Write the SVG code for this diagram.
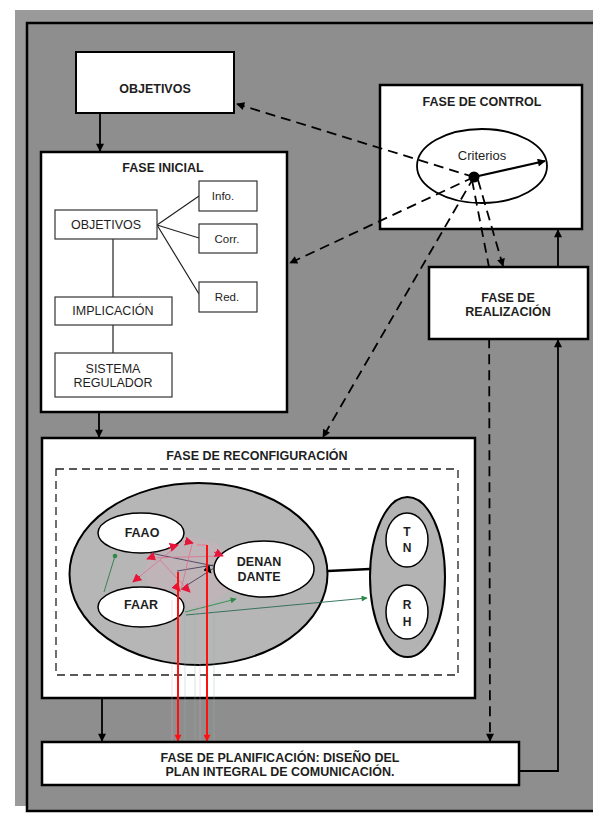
<svg xmlns="http://www.w3.org/2000/svg" width="593" height="814" viewBox="0 0 593 814">
<style>
.t{font-family:"Liberation Sans",Arial,sans-serif;fill:#1e1e1e;text-anchor:middle}
.b{font-weight:bold;font-size:12.5px}
.r{font-size:12.5px}
.box{fill:#fff;stroke:#000;stroke-width:2.5}
.ibox{fill:#fff;stroke:#333;stroke-width:1.2}
.ln{stroke:#222;stroke-width:1.2;fill:none}
.solid{stroke:#000;stroke-width:1.8;fill:none}
.dash{stroke:#000;stroke-width:1.8;fill:none;stroke-dasharray:10 6}
.red{stroke:#ff1010;stroke-width:2;fill:none}
</style>
<defs>
<marker id="ah" viewBox="0 0 10 10" refX="9" refY="5" markerWidth="9" markerHeight="8" markerUnits="userSpaceOnUse" orient="auto"><path d="M0,0 L10,5 L0,10 z" fill="#000"/></marker>
<marker id="rh" viewBox="0 0 10 10" refX="9" refY="5" markerWidth="8" markerHeight="7" markerUnits="userSpaceOnUse" orient="auto"><path d="M0,0 L10,5 L0,10 z" fill="#ff1010"/></marker>
<marker id="gh" viewBox="0 0 10 10" refX="9" refY="5" markerWidth="7" markerHeight="6" markerUnits="userSpaceOnUse" orient="auto"><path d="M0,0 L10,5 L0,10 z" fill="#2f8a4a"/></marker>
<marker id="mh" viewBox="0 0 10 10" refX="9" refY="5" markerWidth="9" markerHeight="9" markerUnits="userSpaceOnUse" orient="auto"><path d="M0,0 L10,5 L0,10 z" fill="#e8153a"/></marker>
</defs>
<rect width="593" height="814" fill="#fff"/>
<rect x="15" y="10" width="590" height="796" fill="#9a9a9a"/>
<rect x="27" y="23" width="580" height="788" fill="#8e8e8e" stroke="#000" stroke-width="2.5"/>

<g id="objetivos">
<rect x="76" y="52" width="158" height="61" fill="#fff" stroke="#000" stroke-width="2"/>
<text class="t b" x="155" y="93">OBJETIVOS</text>
</g>

<g id="fase-control">
<rect class="box" x="380" y="85" width="202" height="144"/>
<text class="t b" x="482" y="106">FASE DE CONTROL</text>
<ellipse cx="482" cy="166" rx="65" ry="37" fill="none" stroke="#000" stroke-width="1.8"/>
<text class="t" x="482" y="160" font-size="13">Criterios</text>
<path d="M474,177 L545,161" stroke="#000" stroke-width="2.2" fill="none" marker-end="url(#ah)"/>
</g>

<g id="fase-inicial">
<rect class="box" x="41" y="152" width="246" height="260"/>
<text class="t b" x="163" y="172">FASE INICIAL</text>
<path class="ln" d="M157,225 L199,196 M157,225 L199,238 M157,225 L199,294 M113,239 L113,297 M113,325 L113,353"/>
<rect class="ibox" x="55" y="210" width="102" height="29"/>
<text class="t r" x="106" y="229">OBJETIVOS</text>
<rect class="ibox" x="199" y="181" width="58" height="30"/>
<text class="t" x="223" y="200" font-size="11.5">Info.</text>
<rect class="ibox" x="199" y="224" width="58" height="29"/>
<text class="t" x="227" y="243" font-size="11.5">Corr.</text>
<rect class="ibox" x="199" y="282" width="58" height="30"/>
<text class="t" x="227" y="301" font-size="11.5">Red.</text>
<rect class="ibox" x="55" y="297" width="117" height="28"/>
<text class="t r" x="113" y="315">IMPLICACIÓN</text>
<rect class="ibox" x="55" y="353" width="117" height="44"/>
<text class="t r" x="113" y="373">SISTEMA</text>
<text class="t r" x="113" y="387">REGULADOR</text>
</g>

<g id="connectors">
<path class="solid" d="M100,113 L100,151" marker-end="url(#ah)"/>
<path class="solid" d="M99,412 L99,437" marker-end="url(#ah)"/>
<path class="solid" d="M102,698 L102,741" marker-end="url(#ah)"/>
<path class="solid" d="M519,771 L558,771 L558,340" marker-end="url(#ah)"/>
<path class="solid" d="M558,267 L558,230" marker-end="url(#ah)"/>
<path class="dash" d="M474,177 L237,104" marker-end="url(#ah)"/>
<path class="dash" d="M474,177 L290,263" marker-end="url(#ah)"/>
<path class="dash" d="M474,177 L323,437" marker-end="url(#ah)"/>
<path class="dash" d="M478,180 L503,266" marker-end="url(#ah)"/>
<path class="dash" d="M472,180 L489,267 L490,741" marker-end="url(#ah)"/>
<circle cx="474" cy="177" r="5.5" fill="#000"/>
</g>

<g id="fase-realizacion">
<rect class="box" x="429" y="267" width="159" height="72"/>
<text class="t b" x="508" y="302">FASE DE</text>
<text class="t b" x="508" y="316">REALIZACIÓN</text>
</g>

<g id="fase-reconfiguracion">
<rect class="box" x="42" y="438" width="433" height="260"/>
<text class="t b" x="257" y="460">FASE DE RECONFIGURACIÓN</text>
<rect x="56" y="469" width="402" height="206" fill="none" stroke="#222" stroke-width="1.3" stroke-dasharray="8 5"/>
<ellipse cx="198.5" cy="574" rx="129" ry="91" fill="#b6b6b6" stroke="#000" stroke-width="2"/>
<ellipse cx="190" cy="572" rx="45" ry="35" fill="#c8b2b8" opacity="0.5"/>
<path d="M328,571 L370,569" stroke="#000" stroke-width="2.5"/>
<ellipse cx="407.5" cy="577" rx="37.5" ry="80" fill="#b3b3b3" stroke="#000" stroke-width="2"/>
<g id="faao"><ellipse cx="141" cy="533" rx="43" ry="20" fill="#fff" stroke="#000" stroke-width="1.5"/><text class="t b" x="142" y="537">FAAO</text></g>
<g id="faar"><ellipse cx="141" cy="607" rx="43" ry="20" fill="#fff" stroke="#000" stroke-width="1.5"/><text class="t b" x="141" y="609">FAAR</text></g>
<g id="denandante"><ellipse cx="264" cy="569" rx="50" ry="28" fill="#fff" stroke="#000" stroke-width="1.5"/><text class="t b" x="259" y="566">DENAN</text><text class="t b" x="259" y="581">DANTE</text></g>
<g id="tn"><ellipse cx="407" cy="540" rx="21" ry="27" fill="#fff" stroke="#000" stroke-width="1.5"/><text class="t" x="407" y="536" font-size="12" font-weight="bold">T</text><text class="t" x="407" y="552" font-size="12" font-weight="bold">N</text></g>
<g id="rh"><ellipse cx="407" cy="612" rx="21" ry="27" fill="#fff" stroke="#000" stroke-width="1.5"/><text class="t" x="407" y="609" font-size="12" font-weight="bold">R</text><text class="t" x="407" y="626" font-size="12" font-weight="bold">H</text></g>
<g id="inner-links">
<path d="M150,553 L214,566 M181,589 L214,568 M177,571 L213,565" stroke="#3a3050" stroke-width="0.8" fill="none"/>
<path d="M115,556 L104,592" stroke="#2f7a45" stroke-width="0.9" fill="none"/>
<circle cx="115" cy="556" r="2.3" fill="#2f8a4a"/>
<path d="M185,612 L236,599" stroke="#2f8a4a" stroke-width="0.9" fill="none" marker-end="url(#gh)"/>
<path d="M186,615 L367,598" stroke="#2a6a50" stroke-width="0.9" fill="none" marker-end="url(#gh)"/>
<path d="M133,582 L178,545 M148,558 L222,556 M181,590 L192,544 M160,560 L190,592" stroke="#e07090" stroke-width="0.8" fill="none"/>
<path d="M168,548 L178,545" stroke="#e8153a" stroke-width="1" marker-end="url(#mh)"/>
<path d="M185,541 L193,543" stroke="#e8153a" stroke-width="1" marker-end="url(#mh)"/>
<path d="M214,552 L223,556" stroke="#e8153a" stroke-width="1" marker-end="url(#mh)"/>
<path d="M155,556 L147,559" stroke="#e8153a" stroke-width="1" marker-end="url(#mh)"/>
<path d="M140,576 L133,582" stroke="#e8153a" stroke-width="1" marker-end="url(#mh)"/>
<path d="M184,586 L190,592" stroke="#b01040" stroke-width="1" marker-end="url(#mh)"/>
<path d="M175,585 L180,591" stroke="#b01040" stroke-width="1" marker-end="url(#mh)"/>
<path d="M205,566 L211,573" stroke="#303090" stroke-width="1" marker-end="url(#ah)"/>
<path d="M197,545 L207,545" stroke="#f07090" stroke-width="1"/>
</g>
</g>

<g id="red-lines">
<path d="M185,600 L185,742 M195,610 L195,742 M214,600 L214,742" stroke="#8fb8a8" stroke-width="1.2" opacity="0.3"/>
<path d="M172,600 L172,742 M200,600 L200,742" stroke="#e8a0c0" stroke-width="1.2" opacity="0.3"/>
<path class="red" d="M178,572 L178,741" marker-end="url(#rh)"/>
<path class="red" d="M207,545 L207,741" marker-end="url(#rh)"/>
</g>

<g id="fase-planificacion">
<rect class="box" x="42" y="742" width="477" height="43"/>
<text class="t b" x="280" y="762">FASE DE PLANIFICACIÓN: DISEÑO DEL</text>
<text class="t b" x="280" y="776">PLAN INTEGRAL DE COMUNICACIÓN.</text>
</g>
</svg>
